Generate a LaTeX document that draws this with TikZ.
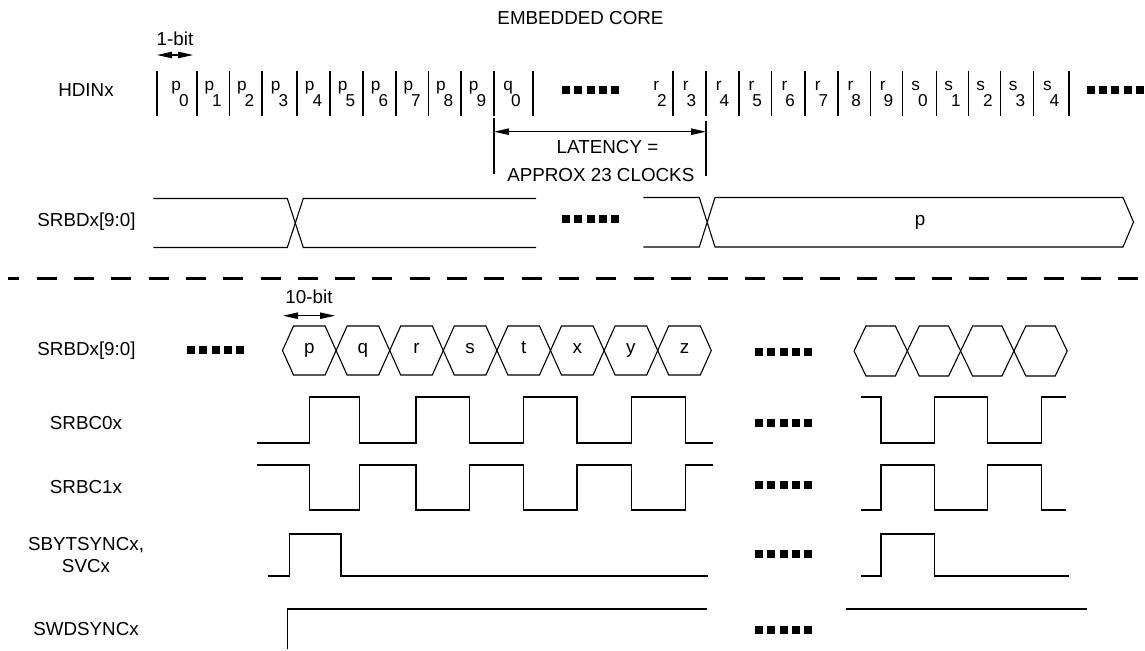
\documentclass[tikz,border=0pt]{standalone}
\usepackage{fontspec}
\setmainfont{Liberation Sans}
\usetikzlibrary{arrows.meta}
\newcommand{\bitlbl}[2]{{\fontsize{8.6}{9}\selectfont\raisebox{7.6pt}{#1}}\kern-1pt{\fontsize{8.6}{9}\selectfont #2}}
\newcommand{\sqdots}[2]{\foreach \k in {0,...,4} {\fill (#1+\k*12.4,#2-4) rectangle ++(8,8);}}
\begin{document}
\begin{tikzpicture}[x=0.5pt,y=-0.5pt,
	lbl/.style={font=\fontsize{9.4}{10.8}\selectfont,inner sep=0pt},
	sig/.style={line width=0.55pt},
	dimarrow/.style={line width=0.55pt,{Triangle[length=7.5pt,width=3.2pt]}-{Triangle[length=7.5pt,width=3.2pt]}},
	sepline/.style={line width=1.3pt,dash pattern=on 10pt off 8.65pt,dash phase=4.45pt}]
	\useasboundingbox (0,0) rectangle (1145,650);
	\node[lbl] (title) at (580.5,18.5) {EMBEDDED CORE};
	\node[lbl] (hdin) at (86,90) {HDINx};
	\node[lbl] (dtop) at (86.5,222) {SRBDx[9:0]};
	\node[lbl] (dlow) at (86.5,350.5) {SRBDx[9:0]};
	\node[lbl] (c0) at (86,423.5) {SRBC0x};
	\node[lbl] (c1) at (86,487.5) {SRBC1x};
	\node[lbl,align=center] (bsync) at (86,555) {SBYTSYNCx,\\SVCx};
	\node[lbl] (wsync) at (86,629.5) {SWDSYNCx};
	\node[lbl] (onebit) at (175,39) {1-bit};
	\coordinate (obA) at (157,55);
	\coordinate (obB) at (193,55);
	\draw[dimarrow] (obA) -- (obB);
	\foreach \x in {157,197,229.5,262,297,330,363,396,428.5,461,494,533,673,706,739,771.5,805,838,870.5,902.5,936.5,968.5,1000.5,1033.5,1069}
		\draw[sig] (\x,71) -- (\x,116);
	\foreach \cx/\l/\d in {180/p/0,213.2/p/1,245.7/p/2,279.5/p/3,313.5/p/4,346.5/p/5,379.5/p/6,412.2/p/7,444.7/p/8,477.5/p/9,512/q/0,
		660/r/2,689.5/r/3,722.5/r/4,755.2/r/5,788.2/r/6,821.5/r/7,854.2/r/8,886.5/r/9,919.5/s/0,952.5/s/1,984.5/s/2,1017/s/3,1051.2/s/4}
		\node[lbl,anchor=base] (b\l\d) at (\cx,106) {\bitlbl{\l}{\d}};
	\sqdots{561.7}{89.5}
	\sqdots{1086.6}{90}
	\coordinate (latA) at (494,131.7);
	\coordinate (latB) at (706,131.7);
	\draw[sig] (494,118) -- (494,174);
	\draw[sig] (706,121) -- (706,176);
	\draw[dimarrow] (latA) -- (latB);
	\node[lbl] (lat1) at (607.5,147) {LATENCY =};
	\node[lbl] (lat2) at (600.8,175) {APPROX 23 CLOCKS};
	\draw[sig] (153.3,198.5) -- (287.3,198.5) -- (303.3,247.5) -- (536,247.5);
	\draw[sig] (153.3,247.5) -- (287.3,247.5) -- (303.3,198.5) -- (536,198.5);
	\sqdots{561.7}{218.5}
	\draw[sig] (643.4,197.5) -- (699.3,197.5) -- (715,247) -- (1123,247) -- (1133.5,222) -- (1123,197.5) -- (715,197.5) -- (699.3,247) -- (643.4,247);
	\node[lbl] (pword) at (920,222) {p};
	\draw[sepline] (8.3,278.5) -- (1145,278.5);
	\node[lbl] (tenbit) at (309,297) {10-bit};
	\coordinate (tbA) at (283,315.7);
	\coordinate (tbB) at (335,315.7);
	\draw[dimarrow] (tbA) -- (tbB);
	\sqdots{186.7}{349.5}
	\foreach \l [count=\i from 0] in {p,q,r,s,t,x,y,z} {
		\draw[sig] (282.5+53.6*\i,350.5) -- ++(11,-24.5) -- ++(31.6,0) -- ++(11,24.5) -- ++(-11,24.5) -- ++(-31.6,0) -- cycle;
		\node[lbl,anchor=base] (h\l) at (309.3+53.6*\i,353.5) {\l};
	}
	\foreach \i in {0,...,3}
		\draw[sig] (854+53.3*\i,351) -- ++(12,-25) -- ++(29.3,0) -- ++(12,25) -- ++(-12,25) -- ++(-29.3,0) -- cycle;
	\sqdots{754.7}{351.5}
	\draw[sig] (257,443) -| (309.3,397) -| (359.3,443) -| (416,397) -| (469.6,443) -| (523.3,397) -| (577,443) -| (631.3,397) -| (685.2,443) -- (713,443);
	\draw[sig] (861,397) -| (881,443) -| (934.4,397) -| (987.6,443) -| (1041.4,397) -- (1066,397);
	\sqdots{754.7}{422.5}
	\draw[sig] (257,465) -| (309.3,510) -| (359.3,465) -| (416,510) -| (469.6,465) -| (523.3,510) -| (577,465) -| (631.3,510) -| (685.2,465) -- (713,465);
	\draw[sig] (861,510) -| (881,465) -| (934.4,510) -| (987.6,465) -| (1041.4,510) -- (1066,510);
	\sqdots{754.7}{485}
	\draw[sig] (267.7,576) -| (289.3,534) -| (341,576) -- (708.4,576);
	\draw[sig] (861,576) -| (881,534) -| (934.4,576) -- (1069,576);
	\sqdots{754.7}{554}
	\draw[sig] (287.7,649) |- (707,609);
	\draw[sig] (846,609) -- (1087.3,609);
	\sqdots{754.7}{629.5}
\end{tikzpicture}
\end{document}
